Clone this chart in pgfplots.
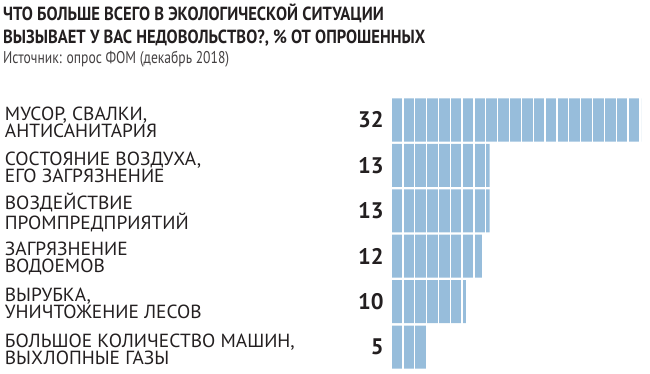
\documentclass[border=0pt]{standalone}
\usepackage{fontspec}
\setmainfont{PT Sans}
\newfontfamily\titlefont[FakeStretch=0.87]{PT Sans}
\newfontfamily\srcfont[FakeStretch=0.80]{PT Sans}
\newfontfamily\labelfont[FakeStretch=1.02]{PT Sans}
\usepackage{pgfplots}
\pgfplotsset{compat=1.18}
\definecolor{barblue}{RGB}{151,189,219}
\definecolor{txt}{RGB}{35,31,32}
\begin{document}
\begin{tikzpicture}[x=1pt,y=1pt]
\path[use as bounding box] (0,0) rectangle (650,374);
\node[anchor=base west, inner sep=0pt, text=txt] at (3,353.3) {\titlefont\bfseries\fontsize{19}{19}\selectfont ЧТО БОЛЬШЕ ВСЕГО В ЭКОЛОГИЧЕСКОЙ СИТУАЦИИ};
\node[anchor=base west, inner sep=0pt, text=txt] at (3,330.7) {\titlefont\bfseries\fontsize{19}{19}\selectfont ВЫЗЫВАЕТ У ВАС НЕДОВОЛЬСТВО?, \% ОТ ОПРОШЕННЫХ};
\node[anchor=base west, inner sep=0pt, text=txt!85] at (3,310.7) {\srcfont\fontsize{17}{17}\selectfont Источник: опрос ФОМ (декабрь 2018)};
\begin{axis}[
  at={(391pt,4.3pt)}, anchor=south west,
  scale only axis, width=250pt, height=272.4pt,
  xmin=0.6, xmax=32, ymin=-0.5, ymax=5.5, y dir=reverse,
  xbar, bar width=43pt, bar shift=0pt,
  axis line style={draw=none}, major tick style={draw=none}, minor tick style={draw=none},
  xtick={0.6,2.089,...,32}, xticklabels={},
  xmajorgrids, grid style={white, line width=1.3pt}, axis on top,
  ytick={0,1,2,3,4,5}, yticklabels={32,13,13,12,10,5},
  yticklabel style={font=\fontsize{22.5}{22.5}\selectfont\bfseries, text=txt, anchor=east, inner sep=0pt, xshift=-3pt},
  extra y ticks={0,1,2,3,4,5},
  extra y tick labels={{МУСОР, СВАЛКИ,\\АНТИСАНИТАРИЯ},{СОСТОЯНИЕ ВОЗДУХА,\\ЕГО ЗАГРЯЗНЕНИЕ},{ВОЗДЕЙСТВИЕ\\ПРОМПРЕДПРИЯТИЙ},{ЗАГРЯЗНЕНИЕ\\ВОДОЕМОВ},{ВЫРУБКА,\\УНИЧТОЖЕНИЕ ЛЕСОВ},{БОЛЬШОЕ КОЛИЧЕСТВО МАШИН,\\ВЫХЛОПНЫЕ ГАЗЫ}},
  extra y tick style={yticklabel style={anchor=west, align=left, xshift=-379pt, yshift=-2pt, inner sep=0pt, text=txt, font=\labelfont\fontsize{19}{17}\selectfont}},
]
\addplot[fill=barblue, draw=none] coordinates {(32,0) (13,1) (13,2) (12,3) (10,4) (5,5)};
\end{axis}
\end{tikzpicture}
\end{document}
